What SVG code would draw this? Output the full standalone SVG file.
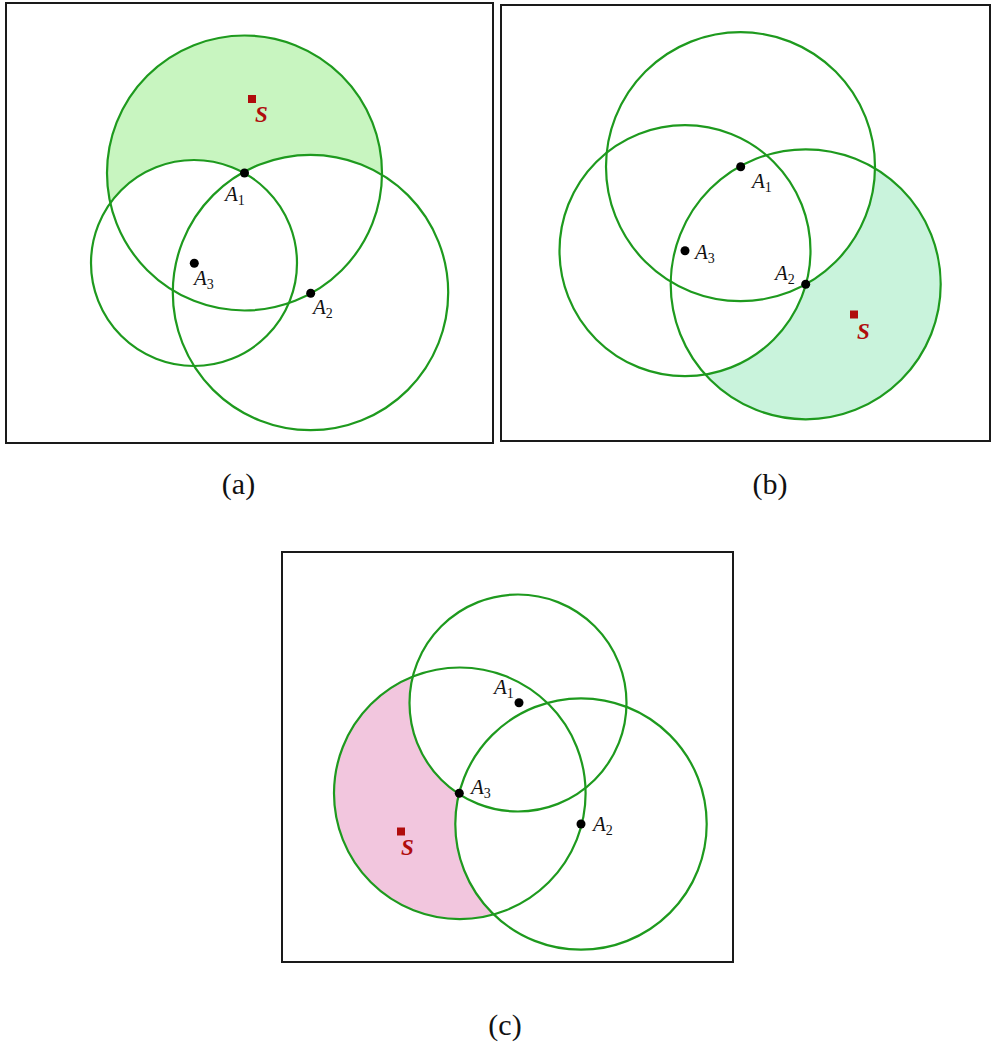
<svg xmlns="http://www.w3.org/2000/svg" width="992" height="1050" viewBox="0 0 992 1050">
<style>
.frame{fill:none;stroke:#1a1a1a;stroke-width:2}
.circ{fill:none;stroke:#1e9a1e;stroke-width:2.2}
.dot{fill:#000}
.src{fill:#b00c0c}
.lbl{font-family:"Liberation Serif",serif;font-style:italic;font-size:21px;fill:#111}
.sub{font-size:14px;font-style:normal}
.s{font-family:"Liberation Serif",serif;font-style:italic;font-weight:bold;font-size:23px;fill:#b00c0c}
.cap{font-family:"Liberation Serif",serif;font-size:30px;fill:#111}
</style>
<defs>
<mask id="ma" maskUnits="userSpaceOnUse" x="0" y="0" width="992" height="1050">
<circle cx="244.5" cy="173" r="137.5" fill="#fff"/>
<circle cx="194" cy="263" r="103" fill="#000"/>
<circle cx="310.5" cy="292.5" r="137.7" fill="#000"/>
</mask>
<mask id="mb" maskUnits="userSpaceOnUse" x="0" y="0" width="992" height="1050">
<circle cx="805.7" cy="284.3" r="135" fill="#fff"/>
<circle cx="740.5" cy="166.7" r="134.5" fill="#000"/>
<circle cx="685" cy="250.7" r="125.5" fill="#000"/>
</mask>
<mask id="mc" maskUnits="userSpaceOnUse" x="0" y="0" width="992" height="1050">
<circle cx="459.8" cy="793.3" r="125.8" fill="#fff"/>
<circle cx="518" cy="703" r="108.5" fill="#000"/>
<circle cx="581" cy="824" r="125.7" fill="#000"/>
</mask>
</defs>

<g id="panel-a">
<rect class="frame" x="6" y="3" width="487" height="440"/>
<rect x="0" y="0" width="500" height="450" fill="#c8f5c0" mask="url(#ma)"/>
<circle class="circ" cx="244.5" cy="173" r="137.5"/>
<circle class="circ" cx="194" cy="263" r="103"/>
<circle class="circ" cx="310.5" cy="292.5" r="137.7"/>
<rect class="src" x="248" y="95" width="8" height="8"/>
<text class="s" x="255" y="122">S</text>
<circle class="dot" cx="244.5" cy="173" r="4.5"/>
<circle class="dot" cx="194.3" cy="263.3" r="4.5"/>
<circle class="dot" cx="310.7" cy="293.3" r="4.5"/>
<text class="lbl" x="225" y="201">A<tspan class="sub" dy="4">1</tspan></text>
<text class="lbl" x="194" y="285">A<tspan class="sub" dy="4">3</tspan></text>
<text class="lbl" x="313" y="314">A<tspan class="sub" dy="4">2</tspan></text>
</g>

<g id="panel-b">
<rect class="frame" x="501" y="5" width="489" height="436"/>
<rect x="495" y="0" width="497" height="450" fill="#c9f3dc" mask="url(#mb)"/>
<circle class="circ" cx="740.5" cy="166.7" r="134.5"/>
<circle class="circ" cx="685" cy="250.7" r="125.5"/>
<circle class="circ" cx="805.7" cy="284.3" r="135"/>
<rect class="src" x="850" y="310.5" width="8" height="8"/>
<text class="s" x="857" y="339">S</text>
<circle class="dot" cx="740.7" cy="166.7" r="4.5"/>
<circle class="dot" cx="685" cy="250.7" r="4.5"/>
<circle class="dot" cx="805.7" cy="284.3" r="4.5"/>
<text class="lbl" x="752" y="188">A<tspan class="sub" dy="4">1</tspan></text>
<text class="lbl" x="695" y="259">A<tspan class="sub" dy="4">3</tspan></text>
<text class="lbl" x="775" y="280">A<tspan class="sub" dy="4">2</tspan></text>
</g>

<g id="panel-c">
<rect class="frame" x="282" y="552" width="451" height="410"/>
<rect x="282" y="552" width="451" height="410" fill="#f2c6de" mask="url(#mc)"/>
<circle class="circ" cx="518" cy="703" r="108.5"/>
<circle class="circ" cx="459.8" cy="793.3" r="125.8"/>
<circle class="circ" cx="581" cy="824" r="125.7"/>
<rect class="src" x="397" y="827.5" width="8" height="8"/>
<text class="s" x="401" y="855">S</text>
<circle class="dot" cx="519" cy="702.7" r="4.5"/>
<circle class="dot" cx="459.3" cy="793.3" r="4.5"/>
<circle class="dot" cx="581" cy="824" r="4.5"/>
<text class="lbl" x="494" y="694">A<tspan class="sub" dy="4">1</tspan></text>
<text class="lbl" x="471" y="794">A<tspan class="sub" dy="4">3</tspan></text>
<text class="lbl" x="593" y="831">A<tspan class="sub" dy="4">2</tspan></text>
</g>

<g id="captions">
<text class="cap" x="238.5" y="494" text-anchor="middle">(a)</text>
<text class="cap" x="770" y="494" text-anchor="middle">(b)</text>
<text class="cap" x="505" y="1035" text-anchor="middle">(c)</text>
</g>
</svg>
